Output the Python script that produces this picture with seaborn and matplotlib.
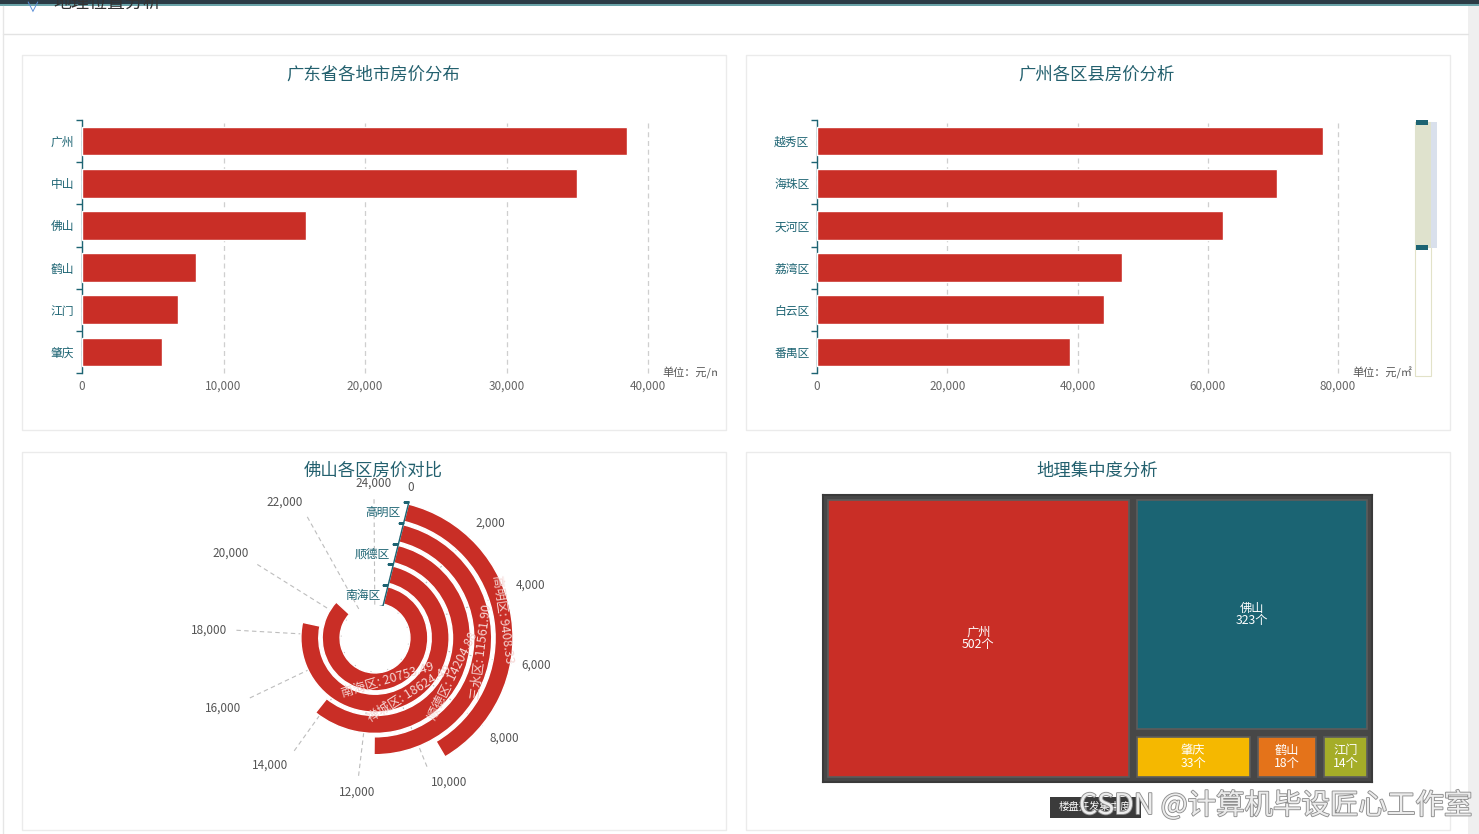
import numpy as np
import pandas as pd
import matplotlib
matplotlib.use("Agg")
import matplotlib.pyplot as plt
import matplotlib.patheffects as pe
from matplotlib.patches import Rectangle
from matplotlib.lines import Line2D
from matplotlib.transforms import Bbox, TransformedBbox
import matplotlib.markers as mmarkers
import seaborn as sns

# ---------------- data ----------------
gd_cities = ['广州', '中山', '佛山', '鹤山', '江门', '肇庆']
gd_prices = [38500, 35000, 15800, 8050, 6800, 5650]
gd_ticks = [0, 10000, 20000, 30000, 40000]

gz_districts = ['越秀区', '海珠区', '天河区', '荔湾区', '白云区', '番禺区']
gz_prices = [77700, 70600, 62400, 46800, 44100, 38900]
gz_ticks = [0, 20000, 40000, 60000, 80000]

fs_districts = ['南海区', '禅城区', '顺德区', '三水区', '高明区']
fs_prices = [20753.49, 18624.49, 14204.88, 11561.90, 9408.33]
fs_angle_ticks = list(range(0, 24001, 2000))
fs_axis_labels = ['南海区', '顺德区', '高明区']

tm_cities = ['广州', '佛山', '肇庆', '鹤山', '江门']
tm_counts = [502, 323, 33, 18, 14]

# ---------------- style ----------------
RED = '#c92e26'
TEAL = '#1d6473'
TITLE = '#23606e'
TICK = '#666666'
tm_colors = ['#c92e26', '#1b6473', '#f5b800', '#e4731a', '#a5ad28']
ANGLE_MAX = 25000
THETA_OFFSET = 14

W, H = 1479, 834
sns.set_theme(style='white')
plt.rcParams['font.family'] = ['Noto Sans CJK SC', 'DejaVu Sans']
plt.rcParams['axes.unicode_minus'] = False

fig = plt.figure(figsize=(W / 100, H / 100), dpi=100)
fig.patch.set_facecolor('white')


def fx(x):
    return x / W


def fy(y):
    return 1 - y / H


def box(x0, y0, x1, y1):
    return [fx(x0), fy(y1), (x1 - x0) / W, (y1 - y0) / H]


def frect(x0, y0, x1, y1, **kw):
    r = Rectangle((fx(x0), fy(y1)), (x1 - x0) / W, (y1 - y0) / H,
                  transform=fig.transFigure, **kw)
    fig.add_artist(r)
    return r


# ---------------- page decoration ----------------
frect(0, 0, W, 4, facecolor='#2b3b45', edgecolor='none', zorder=1)
frect(0, 4, W, 5.5, facecolor='#6aa3a8', edgecolor='none', zorder=1)
fig.text(fx(32), fy(8), '∨', color='#5b8fd6', fontsize=10, ha='center', va='center')
fig.text(fx(53), fy(3), '地理位置分析', color='#333333', fontsize=13, ha='left', va='center')
fig.add_artist(Line2D([fx(3), fx(1468)], [fy(34), fy(34)], color='#e3e3e3', lw=1,
                      transform=fig.transFigure))
fig.add_artist(Line2D([fx(3), fx(3)], [fy(6), 0], color='#e6e6e6', lw=1,
                      transform=fig.transFigure))
frect(1468, 6, W, H, facecolor='#efefef', edgecolor='none', zorder=0)

for (x0, y0, x1, y1) in [(22, 55, 726, 430), (746, 55, 1450, 430),
                         (22, 452, 726, 830), (746, 452, 1450, 830)]:
    frect(x0, y0, x1, y1, facecolor='white', edgecolor='#ebebeb', lw=1, zorder=0)

# ---------------- titles ----------------
for (x, y, t) in [(373, 75, '广东省各地市房价分布'), (1097, 75, '广州各区县房价分析'),
                  (373, 471, '佛山各区房价对比'), (1097, 471, '地理集中度分析')]:
    fig.text(fx(x), fy(y), t, color=TITLE, fontsize=12.5, ha='center', va='center', zorder=5)


# ---------------- horizontal bar charts ----------------
def hbar(ax, cats, vals, ticks):
    df = pd.DataFrame({'cat': cats, 'val': vals})
    sns.barplot(data=df, x='val', y='cat', orient='h', color=RED, saturation=1,
                width=0.68, ax=ax, zorder=3)
    ax.set_xlim(ticks[0], ticks[-1])
    ax.set_ylim(len(cats) - 0.5, -0.5)
    ax.set_xticks(ticks)
    ax.set_xticklabels([f'{t:,}' for t in ticks])
    ax.set_xlabel('')
    ax.set_ylabel('')
    ax.set_facecolor('none')
    for s in ['top', 'right', 'bottom']:
        ax.spines[s].set_visible(False)
    ax.spines['left'].set_color(TEAL)
    ax.spines['left'].set_linewidth(1)
    ax.set_axisbelow(True)
    ax.xaxis.grid(True, color='#cfcfcf', lw=0.9, ls=(0, (4, 3)))
    for gl in ax.get_xgridlines():
        gl.set_clip_on(False)
    ax.yaxis.grid(False)
    ax.tick_params(axis='x', length=0, pad=5, labelsize=8.5, labelcolor=TICK)
    ax.tick_params(axis='y', which='major', length=0, pad=5.5, labelsize=8.5, labelcolor=TEAL)
    ax.set_yticks(np.arange(len(cats) + 1) - 0.5, minor=True)
    ax.tick_params(axis='y', which='minor', length=4, width=1, color=TEAL, direction='out', left=True)


ax1 = fig.add_axes(box(82, 120, 648, 373))
hbar(ax1, gd_cities, gd_prices, gd_ticks)
u1 = fig.text(fx(662), fy(373), '单位：元/㎡', color='#555555', fontsize=8, ha='left', va='center')
u1.set_clip_box(TransformedBbox(Bbox([[fx(600), fy(400)], [fx(717), fy(350)]]), fig.transFigure))
u1.set_clip_on(True)

ax2 = fig.add_axes(box(817, 120, 1338, 373))
hbar(ax2, gz_districts, gz_prices, gz_ticks)
fig.text(fx(1352), fy(373), '单位：元/㎡', color='#555555', fontsize=8, ha='left', va='center')

# data zoom slider (panel 2)
frect(1415, 122, 1431, 376, facecolor='white', edgecolor='#e2e2c8', lw=0.8, zorder=2)
frect(1415, 122, 1431, 248, facecolor='#dfe2cd', edgecolor='none', zorder=3)
frect(1431, 122, 1437, 248, facecolor='#d9e0ec', edgecolor='none', zorder=3)
frect(1416, 120, 1428, 125, facecolor=TEAL, edgecolor='none', zorder=4)
frect(1416, 245, 1428, 250, facecolor=TEAL, edgecolor='none', zorder=4)

# ---------------- polar bar chart ----------------
R_MIN, R_MAX, R_ORIGIN = -0.5, 4.56, -2.06
PC_X, PC_Y, PR = 375, 638, 141


def to_theta(v):
    return np.asarray(v, dtype=float) / ANGLE_MAX * 2 * np.pi


axp = fig.add_axes(box(PC_X - PR, PC_Y - PR, PC_X + PR, PC_Y + PR), projection='polar')
axp.set_theta_zero_location('N', offset=-THETA_OFFSET)
axp.set_theta_direction(-1)
axp.set_ylim(R_MIN, R_MAX)
axp.set_rorigin(R_ORIGIN)
axp.set_facecolor('none')
axp.patch.set_visible(False)
for s in axp.spines.values():
    s.set_linewidth(0)
    s.set_edgecolor('none')
axp.barh(y=np.arange(len(fs_districts)), width=to_theta(fs_prices), height=0.84,
         left=0, color=RED, zorder=3)
axp.set_xticks(to_theta(fs_angle_ticks))
axp.set_xticklabels([f'{t:,}' for t in fs_angle_ticks])
axp.tick_params(axis='x', pad=-4.7, labelsize=8.5, labelcolor='#555555', length=3,
                color='#999999', direction='out')
axp.set_yticks([])
axp.xaxis.grid(True, color='#bdbdbd', ls=(0, (4, 3)), lw=0.8)
axp.yaxis.grid(False)
# echarts-like label alignment around the circle
for t, tick in zip(fs_angle_ticks, axp.xaxis.get_major_ticks()):
    phi = np.radians(t / ANGLE_MAX * 360 + THETA_OFFSET)
    dx, dy = np.sin(phi), np.cos(phi)
    tick.label1.set_ha('center' if abs(dx) < 0.3 else ('left' if dx > 0 else 'right'))
    tick.label1.set_va('center' if abs(dy) < 0.3 else ('bottom' if dy > 0 else 'top'))

# radial axis line, ticks and labels
axp.plot([0, 0], [R_MIN, R_MAX], color=TEAL, lw=1, zorder=4)
axp.plot(np.zeros(len(fs_districts) + 1), np.arange(len(fs_districts) + 1) - 0.5,
         ls='none', marker=mmarkers.TICKLEFT, ms=4, mew=1, color=TEAL, zorder=4)
for i, name in enumerate(fs_districts):
    if name in fs_axis_labels:
        axp.annotate(name, xy=(0, i), xytext=(-4, 0), textcoords='offset points',
                     ha='right', va='center', color=TEAL, fontsize=8.5, zorder=5)

# labels on bars
for i, (name, v) in enumerate(zip(fs_districts, fs_prices)):
    mid = to_theta(v / 2)
    phi = np.degrees(mid) + THETA_OFFSET
    rot = -phi
    if rot < -90:
        rot += 180
    axp.text(mid, i, f'{name}: {v:.2f}', rotation=rot, rotation_mode='anchor',
             ha='center', va='center', color='#f5d5d3', fontsize=9, zorder=6)

# ---------------- treemap ----------------
TW, TH = 549, 287
axt = fig.add_axes(box(823, 495, 823 + TW, 495 + TH))
axt.set_xlim(0, TW)
axt.set_ylim(0, TH)
axt.set_facecolor('#474747')
axt.set_xticks([])
axt.set_yticks([])
for s in axt.spines.values():
    s.set_color('#3a3a3a')
    s.set_linewidth(1.5)


def slice_layout(values, x, y, w, h):
    rects = []
    total = float(sum(values))
    for v in values:
        if w >= h:
            dw = w * v / total
            rects.append((x, y, dw, h))
            x += dw
            w -= dw
        else:
            dh = h * v / total
            rects.append((x, y + h - dh, w, dh))
            h -= dh
        total -= v
    return rects


GAP = 4
for (x, y, w, h), name, cnt, c in zip(slice_layout(tm_counts, 1, 1, TW - 2, TH - 2),
                                      tm_cities, tm_counts, tm_colors):
    axt.add_patch(Rectangle((x + GAP, y + GAP), w - 2 * GAP, h - 2 * GAP,
                            facecolor=c, edgecolor='#5c5c5c', lw=1.2))
    axt.text(x + w / 2, y + h / 2, f'{name}\n{cnt}个', color='white', fontsize=8.8,
             ha='center', va='center', linespacing=0.95)

# ---------------- tooltip & watermark ----------------
frect(1050, 797, 1141, 818, facecolor='#3b3b3b', edgecolor='none', zorder=6)
fig.text(fx(1095), fy(807), '楼盘开发集中度', color='white', fontsize=7.5,
         ha='center', va='center', zorder=7)
fig.text(fx(1079), fy(806), 'CSDN @计算机毕设匠心工作室', color='#ececec', fontsize=20.5,
         ha='left', va='center', zorder=8,
         path_effects=[pe.withStroke(linewidth=1.3, foreground='#8f8f8f')])

fig.savefig('out.png', dpi=100, facecolor='white')
